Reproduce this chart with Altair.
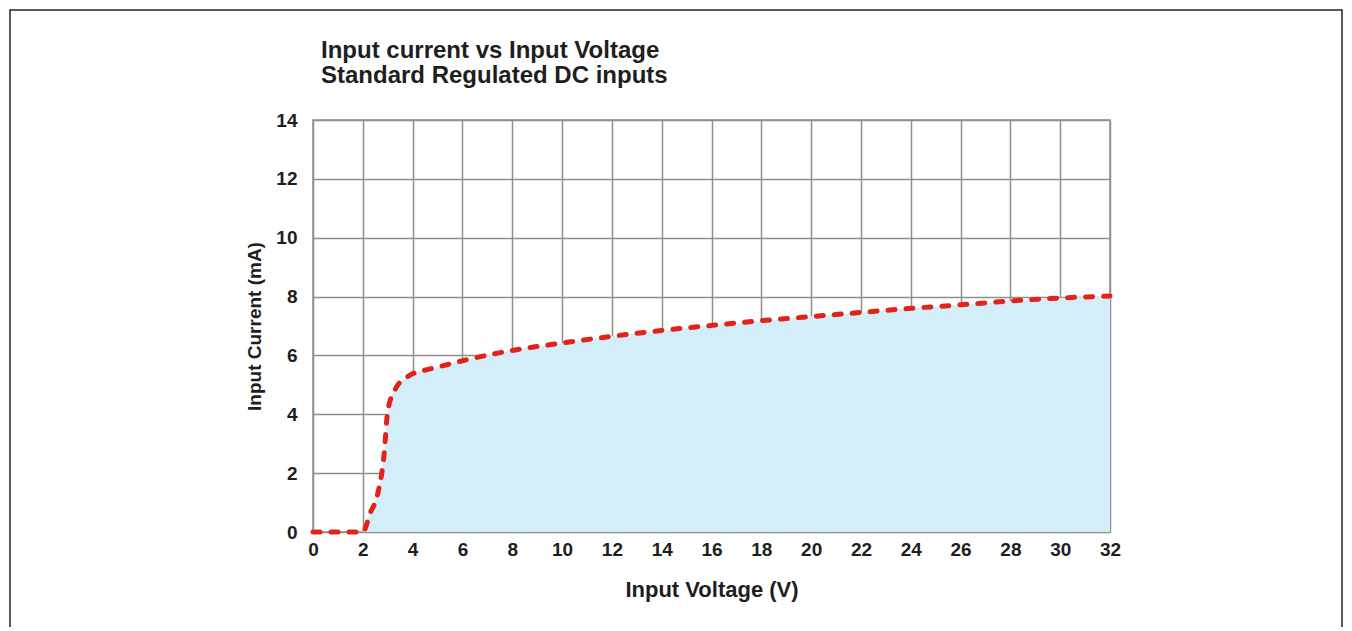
import altair as alt
import pandas as pd

voltage = [0, 1, 2, 2.3, 2.6, 2.85, 3.0, 3.3, 3.9, 4.7, 5.5, 6.3, 8, 10, 12, 14, 16, 18, 20, 22, 24, 26, 28, 30, 32]
current = [0, 0, 0, 0.65, 1.3, 2.6, 4.1, 4.85, 5.33, 5.54, 5.71, 5.88, 6.17, 6.42, 6.65, 6.85, 7.02, 7.18, 7.32, 7.46, 7.6, 7.72, 7.85, 7.95, 8.02]
x_ticks = list(range(0, 33, 2))
y_ticks = list(range(0, 15, 2))
title_lines = ["Input current vs Input Voltage", "Standard Regulated DC inputs"]

df = pd.DataFrame({"v": voltage, "i": current})
df_area = df[df["v"] >= 2]

FONT = "Liberation Sans"
GRID = "#8f8f8f"
TXT = "#1e1e1e"

xs = alt.Scale(domain=[0, 32], nice=False, zero=False)
ys = alt.Scale(domain=[0, 14], nice=False)

x_axis = alt.Axis(values=x_ticks, title="Input Voltage (V)", grid=True, gridColor=GRID, gridWidth=1.5,
                  domain=False, ticks=False, labelFont=FONT, labelFontSize=19, labelFontWeight="bold",
                  labelColor=TXT, labelPadding=8, titleFont=FONT, titleFontSize=22,
                  titleFontWeight="bold", titleColor=TXT, titlePadding=20, labelFlush=False)
y_axis = alt.Axis(values=y_ticks, title="Input Current (mA)", grid=True, gridColor=GRID, gridWidth=1.5,
                  domain=False, ticks=False, labelFont=FONT, labelFontSize=19, labelFontWeight="bold",
                  labelColor=TXT, labelPadding=16, titleFont=FONT, titleFontSize=19,
                  titleFontWeight="bold", titleColor=TXT, titlePadding=11, labelFlush=False)

area = alt.Chart(df_area).mark_area(color="#d3edf9", interpolate="monotone").encode(
    x=alt.X("v:Q", scale=xs, axis=x_axis),
    y=alt.Y("i:Q", scale=ys, axis=y_axis),
)

line = alt.Chart(df).mark_line(color="#e2231a", strokeWidth=5, strokeDash=[7, 11], strokeCap="round",
                                interpolate="monotone").encode(
    x=alt.X("v:Q", scale=xs),
    y=alt.Y("i:Q", scale=ys),
)

frame = alt.Chart(pd.DataFrame({"a": [0]})).mark_rect(fill=None, stroke="#222222", strokeWidth=1.5).encode(
    x=alt.value(-303), x2=alt.value(1029), y=alt.value(-110), y2=alt.value(520)
)

t1 = alt.Chart(pd.DataFrame({"t": [title_lines[0]]})).mark_text(
    font=FONT, fontSize=24, fontWeight="bold", color=TXT, align="left", baseline="alphabetic"
).encode(text="t:N", x=alt.value(8), y=alt.value(-62))
t2 = alt.Chart(pd.DataFrame({"t": [title_lines[1]]})).mark_text(
    font=FONT, fontSize=24, fontWeight="bold", color=TXT, align="left", baseline="alphabetic"
).encode(text="t:N", x=alt.value(8), y=alt.value(-37))

chart = alt.layer(area, line, frame, t1, t2).properties(
    width=797, height=412,
    padding={"left": 305, "top": 112, "right": 234, "bottom": 95},
    autosize=alt.AutoSizeParams(type="none"),
).configure_view(stroke=GRID, strokeWidth=1.5)

chart.save("out.html", embed_options={"renderer": "svg", "actions": False})
